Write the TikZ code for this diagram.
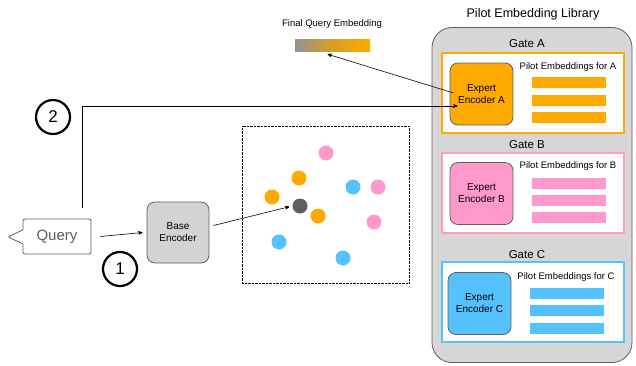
\documentclass[tikz,border=0pt]{standalone}
\usepackage{fontspec}
\setmainfont{Liberation Sans}
\usepackage{tikz}
\usetikzlibrary{calc,positioning,arrows,shapes,shapes.callouts}
\definecolor{gateorange}{HTML}{FFAA00}
\definecolor{gatepink}{HTML}{FF99CC}
\definecolor{gateblue}{HTML}{56C1FF}
\definecolor{libgray}{HTML}{D6D6D6}
\definecolor{encgray}{HTML}{D3D3D3}
\definecolor{edgegray}{HTML}{5F5F5F}
\definecolor{dotgray}{HTML}{5E5E5E}
\tikzset{
>=stealth',
  library/.style={
    rectangle,
    rounded corners=20pt,
    fill=libgray,
    draw=edgegray, thick,
    minimum width=200pt,
    minimum height=335pt},
  gatebox/.style={
    rectangle,
    fill=white,
    draw=#1, line width=2pt,
    minimum width=182pt,
    minimum height=80pt},
  encoder/.style={
    rectangle,
    rounded corners=8pt,
    fill=#1,
    draw=edgegray, thick,
    minimum width=63pt,
    minimum height=62pt,
    align=center,
    font=\fontsize{10}{12}\selectfont},
  pilotbar/.style={
    rectangle,
    fill=#1,
    inner sep=0pt,
    minimum width=74pt,
    minimum height=11pt},
  dot/.style={circle, fill=#1, inner sep=0pt, minimum size=15pt},
  num/.style={circle, draw=black, line width=2.2pt, minimum size=34pt,
    inner sep=0pt, font=\fontsize{17}{19}\selectfont},
  title/.style={font=\fontsize{#1}{14}\selectfont},
  line/.style={draw, semithick, ->},
}
\begin{document}
\begin{tikzpicture}[x=1pt, y=-1pt]
	\useasboundingbox (0,0) rectangle (636,365);
	% library with three gates
	\node[title=12.5] (libtitle) at (533,14) {Pilot Embedding Library};
	\node[library] (lib) at (532,195) {};
	\node[title=11.5] (gateAtext) at (527,44) {Gate A};
	\node[gatebox=gateorange] (gateA) at (533,93) {};
	\node[encoder=gateorange] (expA) at (481.5,94) {Expert\\Encoder A};
	\node[title=9.5] (pilotA) at (568,67) {Pilot Embeddings for A};
	\foreach \y in {82.5,100,117.5}
		\node[pilotbar=gateorange] at (569,\y) {};
	\node[title=11.5] (gateBtext) at (527,145) {Gate B};
	\node[gatebox=gatepink] (gateB) at (533,192.5) {};
	\node[encoder=gatepink] (expB) at (481.5,193.5) {Expert\\Encoder B};
	\node[title=9.5] (pilotB) at (568,166) {Pilot Embeddings for B};
	\foreach \y in {183.5,200.5,217.5}
		\node[pilotbar=gatepink] at (569,\y) {};
	\node[title=11.5] (gateCtext) at (527,255) {Gate C};
	\node[gatebox=gateblue] (gateC) at (532.5,302) {};
	\node[encoder=gateblue] (expC) at (479.5,303.5) {Expert\\Encoder C};
	\node[title=9.5] (pilotC) at (566,277) {Pilot Embeddings for C};
	\foreach \y in {293,310,328}
		\node[pilotbar=gateblue] at (567,\y) {};
	% final embedding
	\node[title=9.5] (finaltext) at (332,24) {Final Query Embedding};
	\node[rectangle, inner sep=0pt, minimum width=75pt, minimum height=12pt,
		left color=gray!85, right color=gateorange, middle color=gateorange!70!gray]
		(finalbar) at (332.5,45) {};
	% query and base encoder
	\node[rectangle callout, rounded corners=2pt, draw=edgegray, thick, fill=white,
		minimum width=68pt, minimum height=35pt, callout pointer width=14pt,
		callout absolute pointer={(8,237)}, text=edgegray,
		font=\fontsize{15}{17}\selectfont] (query) at (57,236.5) {Query};
	\node[encoder=encgray, minimum width=62pt, minimum height=61pt] (base) at (178,232.5) {Base\\Encoder};
	\node[num] (one) at (120,269) {1};
	\node[num] (two) at (53,117) {2};
	% embedding space
	\node[rectangle, draw, densely dotted, minimum width=167pt, minimum height=157pt] (space) at (325.5,204.5) {};
	\node[dot=gatepink] (p1) at (326,153) {};
	\node[dot=gateorange] (o1) at (299,178) {};
	\node[dot=gateorange] (o2) at (272,197) {};
	\node[dot=dotgray] (qdot) at (300,206) {};
	\node[dot=gateorange] (o3) at (318,216) {};
	\node[dot=gateblue] (b1) at (353,187) {};
	\node[dot=gatepink] (p2) at (378,187) {};
	\node[dot=gatepink] (p3) at (374,222) {};
	\node[dot=gateblue] (b2) at (279,242) {};
	\node[dot=gateblue] (b3) at (343,258) {};
	% connectors
	\coordinate (qtop) at (82,208);
	\coordinate (bend) at (82,106);
	\draw[line] ([xshift=9pt]query.east) -- ([xshift=-4pt]base.west);
	\draw[line, shorten >=3pt] ($(base.east)+(4,-7)$) -- (qdot.west);
	\draw[line] (qtop) -- (bend) -- ($(expA.west |- bend)+(8,0)$);
	\draw[line] ($(expA.west)+(4,-1)$) -- ($(finalbar.south)+(-5,3)$);
\end{tikzpicture}
\end{document}
